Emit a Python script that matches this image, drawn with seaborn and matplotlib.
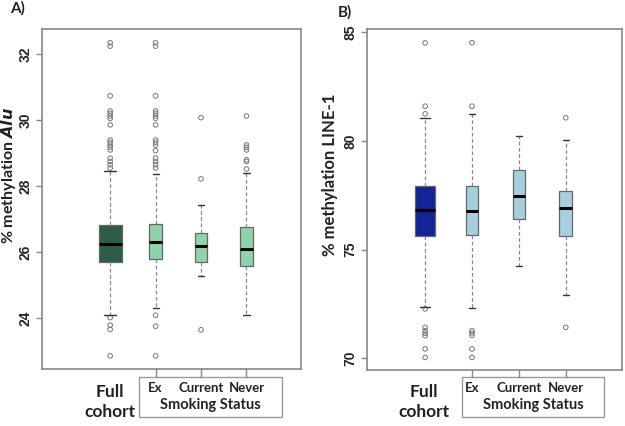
import matplotlib
matplotlib.use("Agg")
import matplotlib.pyplot as plt
import seaborn as sns
import pandas as pd
from matplotlib.patches import Rectangle

sns.set_style("white")
plt.rcParams['font.family'] = ['Lato', 'DejaVu Sans']

groups = ["Full cohort", "Ex", "Current", "Never"]

# Panel A: % methylation Alu  (whislo, q1, med, q3, whishi)
alu_whislo = [24.08, 24.29, 25.27, 24.08]
alu_q1 = [25.71, 25.79, 25.71, 25.58]
alu_med = [26.24, 26.29, 26.17, 26.09]
alu_q3 = [26.82, 26.86, 26.58, 26.76]
alu_whishi = [28.45, 28.36, 27.43, 28.39]
alu_fliers = [
    [32.35, 32.25, 30.74, 30.28, 30.21, 30.13, 30.06, 29.86, 29.40, 29.33, 29.25,
     29.18, 29.10, 28.85, 28.75, 28.65, 28.55, 24.01, 23.78, 23.65, 22.85],
    [32.35, 32.25, 30.74, 30.28, 30.21, 30.13, 30.06, 29.86, 29.40, 29.33, 29.25,
     29.08, 28.85, 28.75, 28.65, 28.55, 24.08, 23.75, 22.85],
    [30.08, 28.22, 23.64],
    [30.13, 29.25, 29.18, 29.10, 28.80, 28.75, 28.52],
]

# Panel B: % methylation LINE-1
line_whislo = [72.37, 72.30, 74.22, 72.90]
line_q1 = [75.63, 75.67, 76.41, 75.64]
line_med = [76.84, 76.78, 77.48, 76.90]
line_q3 = [77.90, 77.94, 78.67, 77.70]
line_whishi = [81.06, 81.24, 80.24, 80.05]
line_fliers = [
    [84.50, 81.59, 81.24, 72.27, 71.42, 71.27, 71.15, 71.04, 70.43, 70.04],
    [84.51, 81.59, 71.27, 71.16, 71.05, 70.43, 70.04],
    [],
    [81.06, 71.42],
]

alu_ticks = [24, 26, 28, 30, 32]
line_ticks = [70, 75, 80, 85]

fig = plt.figure(figsize=(6.25, 4.26), dpi=100)
W, H = 625, 426


def make_ax(x0, x1, y0, y1):
    return fig.add_axes([x0 / W, 1 - y1 / H, (x1 - x0) / W, (y1 - y0) / H])


def panel(ax, whislo, q1, med, q3, whishi, fliers, dark, light, ylim, xlim, ticks, full_w):
    stats = []
    for i in range(4):
        stats.append(dict(whislo=whislo[i], q1=q1[i], med=med[i], q3=q3[i],
                          whishi=whishi[i], fliers=[]))
    widths = [full_w, 0.27, 0.27, 0.27]
    bp = ax.bxp(stats, positions=[0, 1, 2, 3], widths=widths, patch_artist=True,
                showfliers=False, capwidths=[w * 0.5 for w in widths],
                boxprops=dict(edgecolor="#666666", linewidth=0.9),
                medianprops=dict(color="black", linewidth=2.2),
                whiskerprops=dict(color="#888888", linestyle=(0, (3, 2)), linewidth=0.9),
                capprops=dict(color="#333333", linewidth=1.0))
    for i, b in enumerate(bp["boxes"]):
        b.set_facecolor(dark if i == 0 else light)
    rows = []
    for i, fl in enumerate(fliers):
        for v in fl:
            rows.append({"pos": i, "val": v})
    df = pd.DataFrame(rows)
    if len(df):
        sns.scatterplot(data=df, x="pos", y="val", ax=ax, marker="o", s=11,
                        facecolor="none", edgecolor="#777777", linewidth=0.7, legend=False)
    ax.set_ylim(*ylim)
    ax.set_xlim(*xlim)
    ax.set_yticks(ticks)
    ax.set_yticklabels([str(t) for t in ticks], rotation=90, va="center",
                       fontsize=10, fontweight="bold", family="Liberation Sans")
    ax.set_xticks([])
    ax.set_xlabel("")
    ax.set_ylabel("")
    for s in ax.spines.values():
        s.set_color("#888888")
        s.set_linewidth(1.2)
    ax.tick_params(axis="y", left=True, length=4, width=1, color="#888888", pad=3)


axA = make_ax(42, 301, 29, 369)
panel(axA, alu_whislo, alu_q1, alu_med, alu_q3, alu_whishi, alu_fliers,
      "#2e5d45", "#8fd3ab", (22.45, 32.77), (-1.5, 4.2), alu_ticks, 0.5)

axB = make_ax(367, 622, 29, 370)
panel(axB, line_whislo, line_q1, line_med, line_q3, line_whishi, line_fliers,
      "#13239a", "#a8cfdf", (69.46, 85.14), (-1.24, 4.2), line_ticks, 0.43)


def bottom(ax, box_x0, box_x1, full_x):
    # tick connectors from axis to status box
    for i in [1, 2, 3]:
        xd = ax.transData.transform((i, 0))[0]
        xf = xd / fig.dpi / fig.get_figwidth()
        fig.add_artist(plt.Line2D([xf, xf], [ax.get_position().y0, 1 - 377 / H],
                                  color="#888888", linewidth=1.0))
        fig.text(xf, 1 - 388 / H, groups[i], ha="center", va="center",
                 fontsize=9.5, fontweight="bold", color="#222222")
    fig.add_artist(Rectangle((box_x0 / W, 1 - 417 / H), (box_x1 - box_x0) / W, 40 / H,
                             transform=fig.transFigure, fill=False,
                             edgecolor="#999999", linewidth=1.0))
    fig.text((box_x0 + box_x1) / 2 / W, 1 - 405 / H, "Smoking Status", ha="center",
             va="center", fontsize=10.5, fontweight="bold", color="#222222")
    fig.text(full_x / W, 1 - 402 / H, "Full\ncohort", ha="center", va="center",
             fontsize=12.5, fontweight="bold", color="#222222", linespacing=1.35)


fig.canvas.draw()
bottom(axA, 139, 282, 110)
bottom(axB, 462, 604, 424)

fig.text(8.5 / W, 1 - 175 / H, "% methylation $\\mathbfit{Alu}$", rotation=90,
         ha="center", va="center", fontsize=11.5, fontweight="bold", color="#222222")
fig.text(330 / W, 1 - 175 / H, "% methylation LINE-1", rotation=90,
         ha="center", va="center", fontsize=12, fontweight="bold", color="#222222")
fig.text(10 / W, 1 - 8 / H, "A)", ha="left", va="center", fontsize=11,
         fontweight="bold", color="#222222")
fig.text(338 / W, 1 - 12 / H, "B)", ha="left", va="center", fontsize=11,
         fontweight="bold", color="#222222")

fig.savefig("out.png", dpi=100)
